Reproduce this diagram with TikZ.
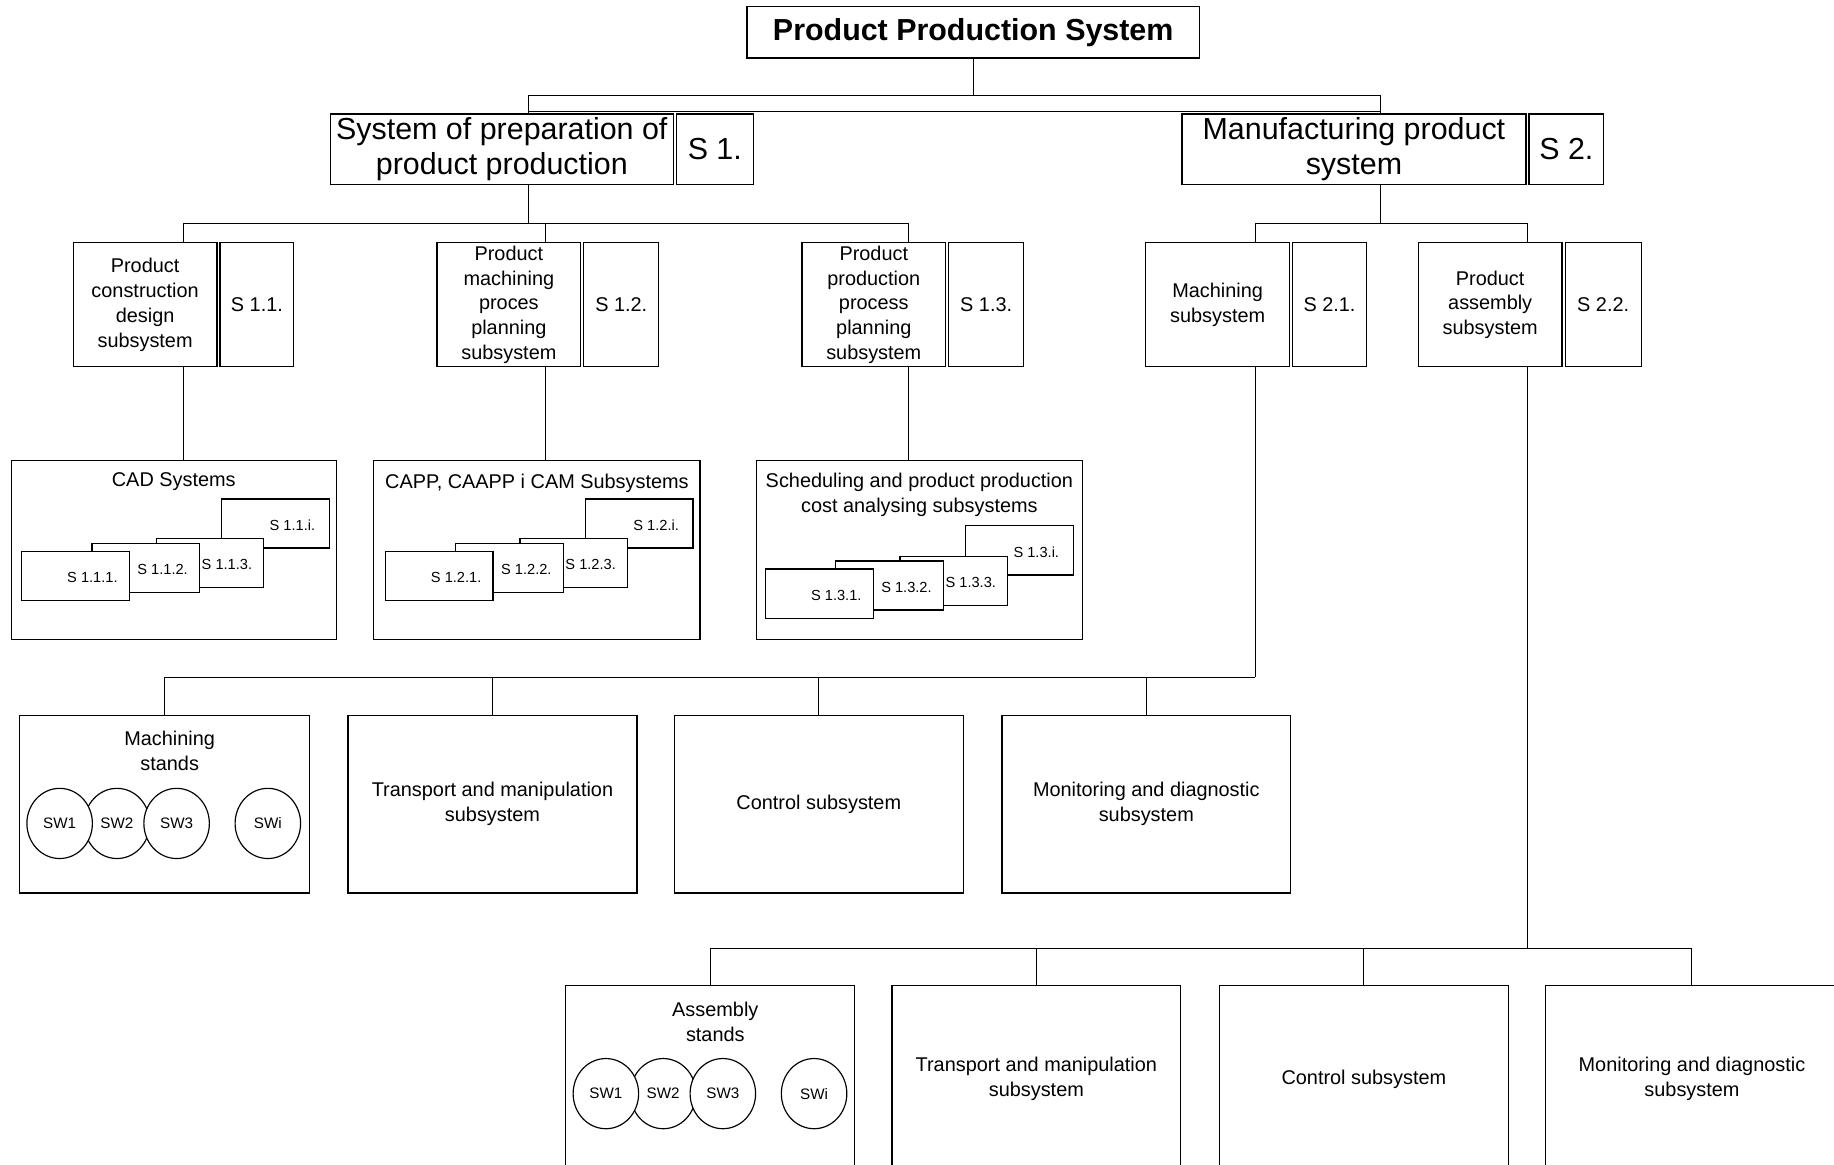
\documentclass[tikz,border=0pt]{standalone}
\usepackage{fontspec}
\setmainfont{Liberation Sans}
\usetikzlibrary{shapes.geometric,positioning}
\tikzset
{
    topnode/.style   = {rectangle, draw=black, line width=1.1pt, inner sep=0pt, anchor=north west, minimum width=387pt, minimum height=44pt, font=\fontsize{26}{30}\selectfont\bfseries},
    sysnode/.style   = {rectangle, draw=black, line width=1.1pt, inner sep=0pt, anchor=north west, align=center, minimum height=60pt, font=\fontsize{26}{30}\selectfont},
    subnode/.style   = {rectangle, draw=black, line width=1.1pt, inner sep=0pt, anchor=north west, align=center, minimum height=106pt, font=\fontsize{17}{21.2}\selectfont},
    groupnode/.style = {rectangle, draw=black, line width=1.1pt, inner sep=0pt, anchor=north west, minimum width=278pt, minimum height=153pt},
    unitnode/.style  = {rectangle, draw=black, line width=1.1pt, inner sep=0pt, anchor=north west, align=center, minimum width=247pt, minimum height=152pt, font=\fontsize{17}{21.5}\selectfont},
    cardnode/.style  = {rectangle, draw=black, fill=white, line width=1.1pt, inner sep=0pt, anchor=north west, minimum width=92pt, minimum height=42pt},
    textnode/.style  = {inner sep=0pt, align=center, font=\fontsize{17}{21.5}\selectfont},
    smallnode/.style = {inner sep=0pt, font=\fontsize{12.5}{15}\selectfont},
    standnode/.style = {ellipse, draw=black, fill=white, line width=1pt, inner sep=0pt, minimum width=56pt, minimum height=60pt, font=\fontsize{13}{15}\selectfont},
    link/.style      = {line width=0.9pt}
}
% overlapping cards: name, x, y of first card, rise of last card, number
\newcommand\cardstack[5]{%
  \node(#1i) [cardnode] at (#2+171,#3-#4) {};
  \node(#13) [cardnode] at (#2+115,#3-11) {};
  \node(#12) [cardnode] at (#2+60,#3-7) {};
  \node(#11) [cardnode] at (#2,#3) {};
  \foreach \k in {1,2,3,i}
    \node(#1\k l) [smallnode] at ([shift={(61,23)}]#1\k.north west) {S #5.\k.};
}
% work stands inside a box
\newcommand\stands[2]{%
  \node(#2b) [standnode] at ([shift={(84,93)}]#1.north west) {SW2};
  \node(#2a) [standnode] at ([shift={(35,93)}]#1.north west) {SW1};
  \node(#2c) [standnode] at ([shift={(135,93)}]#1.north west) {SW3};
  \node(#2i) [standnode] at ([shift={(213,93)}]#1.north west) {SWi};
}
\begin{document}
\begin{tikzpicture}[x=1pt, y=-1pt]
\useasboundingbox (0,0) rectangle (1568,996);
\clip (0,0) rectangle (1568,996);
% top level
\node(pps) [topnode] at (638,5) {Product Production System};
\node(s1) [sysnode, minimum width=293pt] at (282,97) {System of preparation of\\product production};
\node(s1n) [sysnode, minimum width=66pt] at ([xshift=1.5pt]s1.north east) {S 1.};
\node(s2) [sysnode, minimum width=294pt] at (1010,97) {Manufacturing product\\system};
\node(s2n) [sysnode, minimum width=64pt] at ([xshift=1.5pt]s2.north east) {S 2.};
% second level
\node(s11) [subnode, minimum width=123pt] at (62,207) {Product\\construction\\design\\subsystem};
\node(s11n) [subnode, minimum width=63pt] at ([xshift=1.5pt]s11.north east) {S 1.1.};
\node(s12) [subnode, minimum width=123pt] at (373,207) {Product\\machining\\proces\\planning\\subsystem};
\node(s12n) [subnode, minimum width=64pt] at ([xshift=1.5pt]s12.north east) {S 1.2.};
\node(s13) [subnode, minimum width=123pt] at (685,207) {Product\\production\\process\\planning\\subsystem};
\node(s13n) [subnode, minimum width=64pt] at ([xshift=1.5pt]s13.north east) {S 1.3.};
\node(s21) [subnode, minimum width=123pt] at (979,207) {Machining\\subsystem};
\node(s21n) [subnode, minimum width=63pt] at ([xshift=1.5pt]s21.north east) {S 2.1.};
\node(s22) [subnode, minimum width=123pt] at (1212,207) {Product\\assembly\\subsystem};
\node(s22n) [subnode, minimum width=65pt] at ([xshift=1.5pt]s22.north east) {S 2.2.};
% third level
\node(cad) [groupnode] at (9,393) {};
\node(cadt) [textnode] at ([yshift=-19pt]cad.north) {CAD Systems};
\node(capp) [groupnode, minimum width=279pt] at (319,393) {};
\node(cappt) [textnode] at ([yshift=-20pt]capp.north) {CAPP, CAAPP i CAM Subsystems};
\node(sched) [groupnode, minimum width=279pt] at (646,393) {};
\node(schedt) [textnode] at ([yshift=-30pt]sched.north) {Scheduling and product production\\cost analysing subsystems};
\cardstack{cad}{18}{471}{45}{1.1}
\cardstack{capp}{329}{471}{45}{1.2}
\cardstack{sched}{654}{486}{37}{1.3}
% machining units
\node(mst) [unitnode, minimum width=248pt] at (16,611) {};
\node(mstl) [textnode] at ([shift={(4.5,31)}]mst.north) {Machining\\stands};
\stands{mst}{m}
\node(mtr) [unitnode] at (297,611) {Transport and manipulation\\subsystem};
\node(mcs) [unitnode] at (576,611) {Control subsystem};
\node(mmd) [unitnode] at (856,611) {Monitoring and diagnostic\\subsystem};
% assembly units
\node(ast) [unitnode, minimum height=160pt] at (483,842) {};
\node(astl) [textnode] at ([shift={(4.5,32)}]ast.north) {Assembly\\stands};
\stands{ast}{a}
\node(atr) [unitnode, minimum height=160pt] at (762,842) {Transport and manipulation\\subsystem};
\node(acs) [unitnode, minimum height=160pt] at (1042,842) {Control subsystem};
\node(amd) [unitnode, minimum height=160pt, minimum width=250pt] at (1321,842) {Monitoring and diagnostic\\subsystem};
% connectors
\coordinate (s1c) at ([xshift=170pt]s1.north west);
\coordinate (s2c) at ([xshift=170pt]s2.north west);
\coordinate (bar) at ([yshift=15pt]s1c);
\draw[link] (pps.south) -- (pps.south |- bar);
\draw[link] (s1c) -- (bar) -| (s2c);
\draw[link] ([yshift=1.5pt]s1c) -- ([yshift=1.5pt]s2c);
\coordinate (s11c) at ([xshift=95pt]s11.north west);
\coordinate (s12c) at ([xshift=93pt]s12.north west);
\coordinate (s13c) at ([xshift=92pt]s13.north west);
\coordinate (s21c) at ([xshift=94pt]s21.north west);
\coordinate (s22c) at ([xshift=94pt]s22.north west);
\draw[link] (s1c |- s1.south) -- ++(0,33) coordinate (j1);
\draw[link] (s11c) |- (j1) -| (s13c);
\draw[link] (s12c) -- (s12c |- j1);
\draw[link] (s2c |- s2.south) -- ++(0,33) coordinate (j2);
\draw[link] (s21c) |- (j2) -| (s22c);
\draw[link] (s11c |- s11.south) -- (s11c |- cad.north);
\draw[link] (s12c |- s12.south) -- (s12c |- capp.north);
\draw[link] (s13c |- s13.south) -- (s13c |- sched.north);
\draw[link] (s21c |- s21.south) -- ++(0,265) coordinate (j3);
\draw[link] (mst.north) |- (j3);
\draw[link] (mtr.north) -- (mtr.north |- j3);
\draw[link] (mcs.north) -- (mcs.north |- j3);
\draw[link] (mmd.north) -- (mmd.north |- j3);
\draw[link] (s22c |- s22.south) -- ++(0,497) coordinate (j4);
\draw[link] (ast.north) |- (j4) -| (amd.north);
\draw[link] (atr.north) -- (atr.north |- j4);
\draw[link] (acs.north) -- (acs.north |- j4);
\end{tikzpicture}
\end{document}
